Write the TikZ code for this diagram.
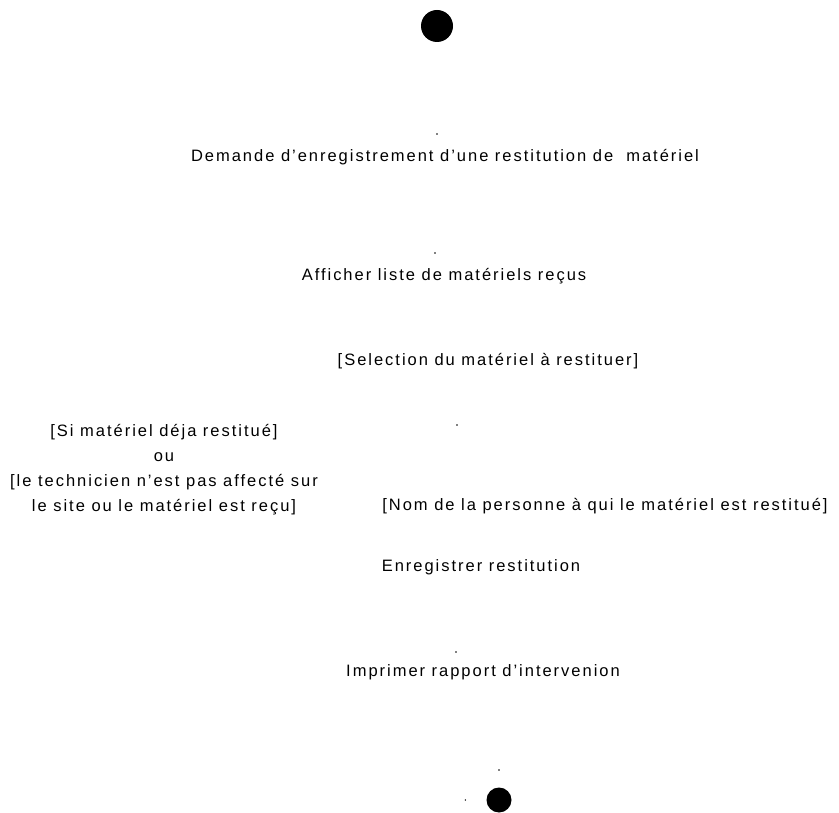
\documentclass[tikz,border=0pt]{standalone}
\usepackage{fontspec}
\setmainfont{Liberation Sans}[LetterSpace=12]
\usetikzlibrary{positioning}

\begin{document}
\begin{tikzpicture}[x=1pt, y=-1pt,
    lbl/.style={inner sep=0pt, font=\fontsize{16.5}{25}\selectfont, align=center},
    etat/.style={circle, fill=black, inner sep=0pt, minimum size=#1},
    pt/.style={circle, fill=black, inner sep=0pt, minimum size=1.6pt},
]
    \useasboundingbox (0,0) rectangle (839,813);
    % debut et fin
    \node[etat=32pt] (debut) at (437,26) {};
    \node[etat=25pt] (fin) at (499,800) {};

    % activites
    \node[lbl] (demande) at (445,157) {Demande d'enregistrement d'une restitution de \ matériel};
    \node[lbl] (afficher) at (444,276) {Afficher liste de matériels reçus};
    \node[lbl] (enreg) at (481,567) {Enregistrer restitution};
    \node[lbl] (imprimer) at (483,672) {Imprimer rapport d'intervenion};

    % gardes
    \node[lbl] (selection) at (488,361) {[Selection du matériel à restituer]};
    \node[lbl] (refus) at (164,470) {[Si matériel déja restitué]\\ou\\{}[le technicien n'est pas affecté sur\\le site ou le matériel est reçu]};
    \node[lbl] (nom) at (605,506) {[Nom de la personne à qui le matériel est restitué]};

    % points restants
    \node[pt] (p1) at (437,134) {};
    \node[pt] (p2) at (435,253) {};
    \node[pt] (p3) at (457,425) {};
    \node[pt] (p4) at (456,652) {};
    \node[pt] (p5) at (499,770) {};
    \node[pt, left=20pt of fin] (p6) {};
\end{tikzpicture}
\end{document}
